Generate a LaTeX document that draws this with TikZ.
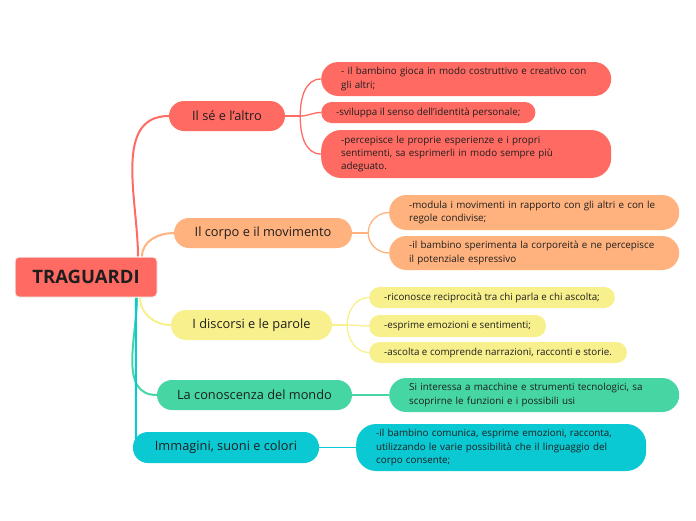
\documentclass[tikz,border=0pt]{standalone}
\usepackage{fontspec}
\setmainfont{Open Sans}
\usetikzlibrary{positioning,backgrounds}
\definecolor{areaSe}{HTML}{FF6B63}
\definecolor{areaCorpo}{HTML}{FFB27E}
\definecolor{areaDiscorsi}{HTML}{F8F08C}
\definecolor{areaMondo}{HTML}{45D6A3}
\definecolor{areaImmagini}{HTML}{0BC9D3}
\definecolor{inktext}{HTML}{1E1E1E}

\begin{document}
\begin{tikzpicture}[x=1pt,y=1pt,text=inktext,
root/.style={fill=areaSe,draw=black!6,line width=1pt,rounded corners=4pt,minimum width=142pt,minimum height=40pt,inner sep=0pt,font=\fontsize{18.5}{21}\selectfont\bfseries},
field/.style={fill=#1,rounded corners=15pt,minimum height=30pt,inner sep=0pt,font=\fontsize{12.8}{15}\selectfont},
goal/.style={fill=#1,anchor=west,align=left,inner xsep=20pt,inner ysep=0pt,text width=250pt,rounded corners=17pt,font=\fontsize{9.8}{13.4}\selectfont},
shortgoal/.style={fill=#1,anchor=west,inner xsep=15pt,inner ysep=0pt,rounded corners=10.5pt,minimum height=21pt,font=\fontsize{9.8}{13.4}\selectfont},
trunk/.style={draw=#1,line width=2pt},
twig/.style={draw=#1,line width=1.3pt}]
\useasboundingbox (0,0) rectangle (696,-520);
\node[root] (traguardi) at (86,-277) {TRAGUARDI};
\node[field=areaSe,minimum width=116pt] (se) at (227,-116) {Il sé e l'altro};
\node[field=areaCorpo,minimum width=178pt] (corpo) at (263,-233) {Il corpo e il movimento};
\node[field=areaDiscorsi,minimum width=161pt] (discorsi) at (251.5,-325) {I discorsi e le parole};
\node[field=areaMondo,minimum width=195pt] (mondo) at (254.5,-395) {La conoscenza del mondo};
\node[field=areaImmagini,minimum width=186pt,minimum height=31pt] (immagini) at (226,-447.5) {Immagini, suoni e colori};

\node[goal=areaSe,minimum height=34pt] (seGioca) at (321,-79)
 {- il bambino gioca in modo costruttivo e creativo con\\gli altri;};
\node[shortgoal=areaSe] (seSviluppa) at (321,-112.5)
 {-sviluppa il senso dell'identità personale;};
\node[goal=areaSe,minimum height=48pt,rounded corners=20pt] (sePercepisce) at (321,-154)
 {-percepisce le proprie esperienze e i propri\\sentimenti, sa esprimerli in modo sempre più\\adeguato.};

\node[goal=areaCorpo,minimum height=35pt] (corpoModula) at (389,-212.5)
 {-modula i movimenti in rapporto con gli altri e con le\\regole condivise;};
\node[goal=areaCorpo,minimum height=34pt] (corpoSperimenta) at (389,-253)
 {-il bambino sperimenta la corporeità e ne percepisce\\il potenziale espressivo};

\node[shortgoal=areaDiscorsi] (discorsiRiconosce) at (369,-297.5)
 {-riconosce reciprocità tra chi parla e chi ascolta;};
\node[shortgoal=areaDiscorsi,minimum height=22pt] (discorsiEsprime) at (369,-326)
 {-esprime emozioni e sentimenti;};
\node[shortgoal=areaDiscorsi] (discorsiAscolta) at (369,-352.5)
 {-ascolta e comprende narrazioni, racconti e storie.};

\node[goal=areaMondo,minimum height=34pt] (mondoMacchine) at (389,-395)
 {Si interessa a macchine e strumenti tecnologici, sa\\scoprirne le funzioni e i possibili usi};

\node[goal=areaImmagini,minimum height=47pt,rounded corners=20pt] (immaginiComunica) at (356,-447.5)
 {-il bambino comunica, esprime emozioni, racconta,\\utilizzando le varie possibilità che il linguaggio del\\corpo consente;};

\begin{scope}[on background layer]
\draw[trunk=areaSe] ([xshift=52pt]traguardi.north) to[out=90,in=180] (se.west);
\draw[trunk=areaCorpo] ([xshift=56pt]traguardi.north) to[out=90,in=180] (corpo.west);
\draw[trunk=areaDiscorsi] ([xshift=54pt]traguardi.south) to[out=-90,in=180] (discorsi.west);
\draw[trunk=areaMondo] ([xshift=51pt]traguardi.south) to[out=-90,in=180] (mondo.west);
\draw[trunk=areaImmagini] ([xshift=50pt]traguardi.south) -- ([xshift=3pt,yshift=-8pt]immagini.north west);

\draw[twig=areaSe] (se.east) -- ++(15,0) coordinate (seFork);
\draw[twig=areaSe] (seFork) to[out=90,in=180] (seGioca.west);
\draw[twig=areaSe] (seFork) to[out=0,in=180] (seSviluppa.west);
\draw[twig=areaSe] (seFork) to[out=-90,in=180] (sePercepisce.west);

\draw[twig=areaCorpo] (corpo.east) -- ++(16,0) coordinate (corpoFork);
\draw[twig=areaCorpo] (corpoFork) to[out=90,in=180] (corpoModula.west);
\draw[twig=areaCorpo] (corpoFork) to[out=-90,in=180] (corpoSperimenta.west);

\draw[twig=areaDiscorsi] (discorsi.east) -- ++(15,0) coordinate (discorsiFork);
\draw[twig=areaDiscorsi] (discorsiFork) to[out=90,in=180] (discorsiRiconosce.west);
\draw[twig=areaDiscorsi] (discorsiFork) to[out=0,in=180] (discorsiEsprime.west);
\draw[twig=areaDiscorsi] (discorsiFork) to[out=-90,in=180] (discorsiAscolta.west);

\draw[twig=areaMondo] (mondo.east) -- (mondoMacchine.west);
\draw[twig=areaImmagini] (immagini.east) -- (immaginiComunica.west);
\end{scope}
\end{tikzpicture}
\end{document}
